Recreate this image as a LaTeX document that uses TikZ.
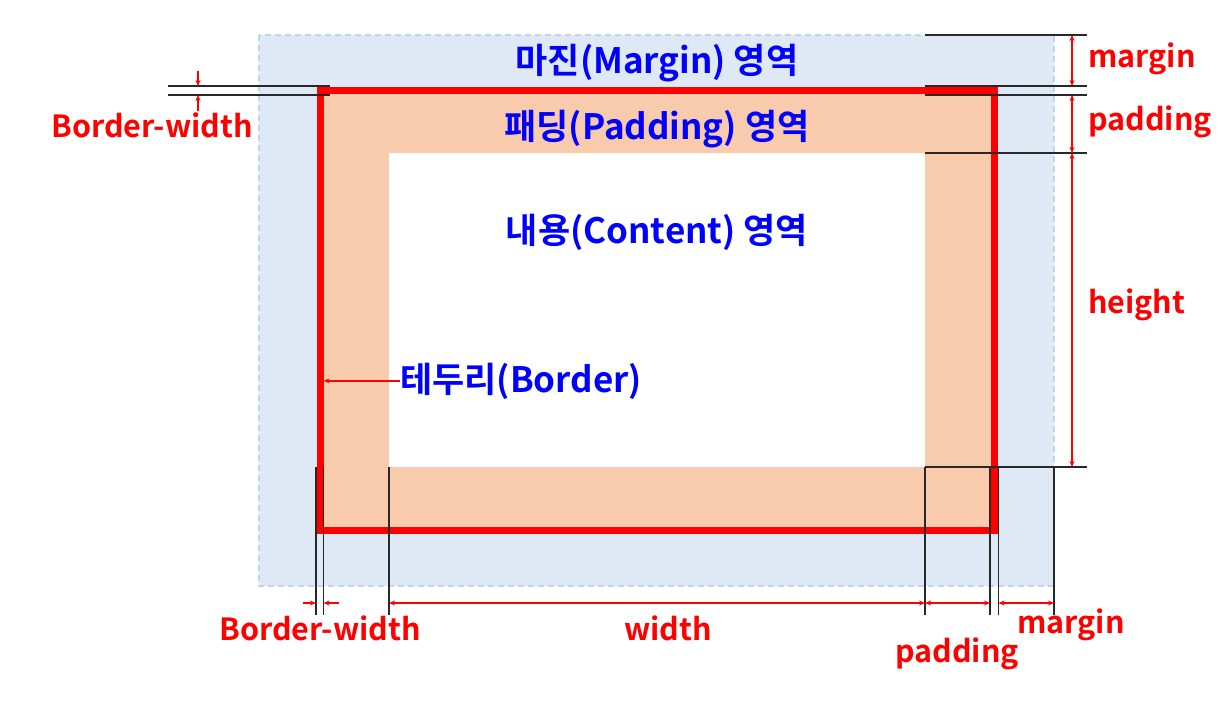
\documentclass[tikz,border=0pt]{standalone}
\usepackage{fontspec}
\setmainfont{Noto Sans CJK KR}[BoldFont={Noto Sans CJK KR Bold}]
\usetikzlibrary{arrows.meta, positioning, calc}
\definecolor{marginblue}{RGB}{222, 233, 245}
\definecolor{marginedge}{RGB}{189, 214, 238}
\definecolor{padpeach}{RGB}{248, 203, 173}
\definecolor{boxred}{RGB}{255, 0, 0}
\definecolor{areablue}{RGB}{0, 0, 255}
\definecolor{guidegray}{RGB}{40, 40, 40}

\begin{document}
\begin{tikzpicture}[x=1pt, y=-1pt,
  area/.style={font=\bfseries\fontsize{35}{38}\selectfont, text=areablue, inner sep=0pt, anchor=base},
  dimlbl/.style={font=\bfseries\fontsize{30.5}{33}\selectfont, text=boxred, inner sep=0pt, anchor=base},
  guide/.style={draw=guidegray, line width=1.3pt},
  dim/.style={draw=boxred, line width=1.3pt, {Stealth[length=6pt,width=5pt]}-{Stealth[length=6pt,width=5pt]}},
  pointer/.style={draw=boxred, line width=1.3pt, -{Stealth[length=6pt,width=5pt]}}]
  \useasboundingbox (0,0) rectangle (1230,709);

  % Box corners
  \coordinate (mTL) at (259,35);
  \coordinate (mBR) at (1054,586);
  \coordinate (bTL) at (320,90.5);
  \coordinate (bBR) at (994.5,530.5);
  \coordinate (bOut) at (316,86);
  \coordinate (bIn) at (323.5,95);
  \coordinate (bInR) at (990,527);
  \coordinate (bOutR) at (998.5,534);
  \coordinate (cTL) at (389,153);
  \coordinate (cBR) at (925,467);

  % Areas
  \fill[marginblue] (mTL) rectangle (mBR);
  \draw[marginedge, line width=1.5pt, dash pattern=on 6pt off 4pt] (mTL) rectangle (mBR);
  \fill[padpeach] (bTL) rectangle (bBR);
  \fill[white] (cTL) rectangle (cBR);
  \draw[boxred, line width=7pt] (bTL) rectangle (bBR);

  % Guide ends
  \coordinate (gL) at (168,0);
  \coordinate (gLe) at (330,0);
  \coordinate (gR) at (1087,0);
  \coordinate (gB) at (0,615);
  \coordinate (dimX) at (1072,0);
  \coordinate (dimY) at (0,603);
  \coordinate (bwX) at (198,0);

  % Guides, top left
  \draw[guide] (gL |- bOut) -- (gLe |- bOut);
  \draw[guide] (gL |- bIn) -- (gLe |- bIn);

  % Guides, right side
  \draw[guide] (cBR |- mTL) -- (gR |- mTL);
  \draw[guide] (cBR |- bOut) -- (gR |- bOut);
  \draw[guide] (cBR |- bIn) -- (gR |- bIn);
  \draw[guide] (cBR |- cTL) -- (gR |- cTL);
  \draw[guide] (cBR) -- (gR |- cBR);

  % Guides, bottom
  \foreach \g in {bOut, bIn, cTL, cBR, bInR, bOutR, mBR}
    \draw[guide] (\g |- cBR) -- (\g |- gB);

  % Dimensions, right side
  \draw[dim] (dimX |- mTL) -- (dimX |- bOut);
  \draw[dim] (dimX |- bIn) -- (dimX |- cTL);
  \draw[dim] (dimX |- cTL) -- (dimX |- cBR);

  % Dimensions, bottom
  \draw[dim] (cTL |- dimY) -- (cBR |- dimY);
  \draw[dim] (cBR |- dimY) -- (bInR |- dimY);
  \draw[dim] (bOutR |- dimY) -- (mBR |- dimY);
  \draw[pointer] ($(bOut |- dimY)+(-13,0)$) -- (bOut |- dimY);
  \draw[pointer] ($(bIn |- dimY)+(15,0)$) -- (bIn |- dimY);

  % Border width, top left
  \draw[pointer] ($(bwX |- bOut)+(0,-15)$) -- (bwX |- bOut);
  \draw[pointer] ($(bwX |- bIn)+(0,16)$) -- (bwX |- bIn);

  % Area names
  \node[area] (marginlbl) at (657,74) {마진(Margin) 영역};
  \node[area] (paddinglbl) at (657,139) {패딩(Padding) 영역};
  \node[area] (contentlbl) at (657,243) {내용(Content) 영역};
  \node[area, anchor=base west] (borderlbl) at (400,392) {테두리(Border)};
  \draw[pointer] (borderlbl.west) -- (borderlbl.west -| bIn);

  % Dimension names
  \node[dimlbl] (bwtop) at (152,137) {Border-width};
  \node[dimlbl, anchor=base west] (mtop) at (1088,67) {margin};
  \node[dimlbl, anchor=base west] (ptop) at (1088,130) {padding};
  \node[dimlbl, anchor=base west] (hgt) at (1088,313) {height};
  \node[dimlbl] (bwbot) at (320,640) {Border-width};
  \node[dimlbl] (wdt) at (668,640) {width};
  \node[dimlbl] (pbot) at (957,662) {padding};
  \node[dimlbl] (mbot) at (1071,633) {margin};
\end{tikzpicture}
\end{document}
